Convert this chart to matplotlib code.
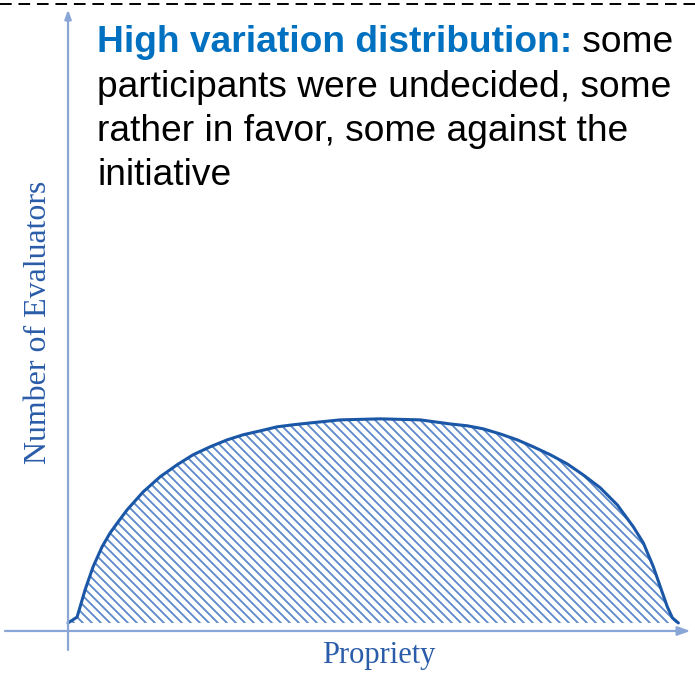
import matplotlib
matplotlib.use("Agg")
import matplotlib.pyplot as plt

# propriety (0..1) vs number of evaluators (peak = 1)
propriety = [0.0, 0.0148, 0.0279, 0.041, 0.0557, 0.0689, 0.082, 0.0967, 0.123, 0.1508,
             0.1787, 0.2049, 0.2328, 0.2607, 0.2869, 0.3148, 0.3426, 0.3689, 0.3967, 0.4459,
             0.5115, 0.577, 0.6262, 0.6541, 0.6803, 0.7082, 0.7361, 0.7623, 0.7902, 0.818,
             0.8443, 0.8721, 0.9, 0.9262, 0.9426, 0.959, 0.9705, 0.982, 0.9902, 1.0]
evaluators = [0.0, 0.029, 0.162, 0.275, 0.373, 0.441, 0.495, 0.554, 0.642, 0.716,
              0.775, 0.824, 0.863, 0.897, 0.922, 0.941, 0.961, 0.971, 0.98, 0.995,
              1.0, 0.995, 0.975, 0.966, 0.951, 0.926, 0.897, 0.863, 0.824, 0.779,
              0.725, 0.662, 0.578, 0.471, 0.392, 0.275, 0.176, 0.078, 0.025, 0.0]

heading = "High variation distribution:"
heading_tail = " some"
body_lines = ["participants were undecided, some",
              "rather in favor, some against the",
              "initiative"]
xlabel = "Propriety"
ylabel = "Number of Evaluators"

DPI = 108          # hatch tile = DPI px, so this sets the hatch spacing
S = 100 / DPI      # keeps sizes as if drawn at 100 dpi
plt.rcParams["hatch.linewidth"] = 1.3 * S

W, H = 695, 676
fig = plt.figure(figsize=((W + 0.4) / DPI, (H + 0.4) / DPI), dpi=DPI)
ax = fig.add_axes([0, 0, 1, 1])
ax.axis("off")
ax.set_xlim(-68 / 610, (W - 68) / 610)
ax.set_ylim((623 - H) / 204, 623 / 204)

# hatched area + outline
ax.fill_between(propriety, 0, evaluators, facecolor="none", edgecolor="#5a88c8",
                hatch="\\\\\\\\", linewidth=0)
ax.plot(propriety, evaluators, color="#1b57a7", lw=2.2 * S, solid_capstyle="round",
        solid_joinstyle="round")

# arrow axes
axis_col = "#8aa6d6"
y0 = -8 / 204
ax.annotate("", xy=(0, 613 / 204), xytext=(0, -27 / 204),
            arrowprops=dict(arrowstyle="-|>,head_length=0.5,head_width=0.18",
                            color=axis_col, lw=1.6 * S, shrinkA=0, shrinkB=0))
ax.annotate("", xy=(622 / 610, y0), xytext=(-63 / 610, y0),
            arrowprops=dict(arrowstyle="-|>,head_length=0.7,head_width=0.25",
                            color=axis_col, lw=1.6 * S, shrinkA=0, shrinkB=0))

# dashed line on top
fig.add_artist(plt.Line2D([0, 1], [1 - 4 / H, 1 - 4 / H], color="black", lw=1.4 * S,
                          linestyle=(0, (6, 3.5))))

# axis labels
fig.text(379 / W, 1 - 663 / H, xlabel, family="Liberation Serif", fontsize=22 * S,
         color="#2a5ca9", ha="center", va="baseline")
fig.text(38 / W, 1 - 322 / H, ylabel, family="Liberation Serif", fontsize=23 * S,
         color="#2a5ca9", ha="center", va="center", rotation=90)

# annotation text
fs = 26.7 * S
t = fig.text(97 / W, 1 - 52 / H, heading, family="Liberation Sans", fontsize=fs,
             fontweight="bold", color="#0070c0", ha="left", va="baseline")
ax.annotate(heading_tail, xy=(1, 0), xycoords=t, family="Liberation Sans",
            fontsize=fs, color="black", ha="left", va="bottom")
for i, line in enumerate(body_lines):
    fig.text(97 / W, 1 - (97 + 44 * i) / H, line, family="Liberation Sans",
             fontsize=fs, color="black", ha="left", va="baseline")

fig.savefig("out.png", dpi=DPI)
